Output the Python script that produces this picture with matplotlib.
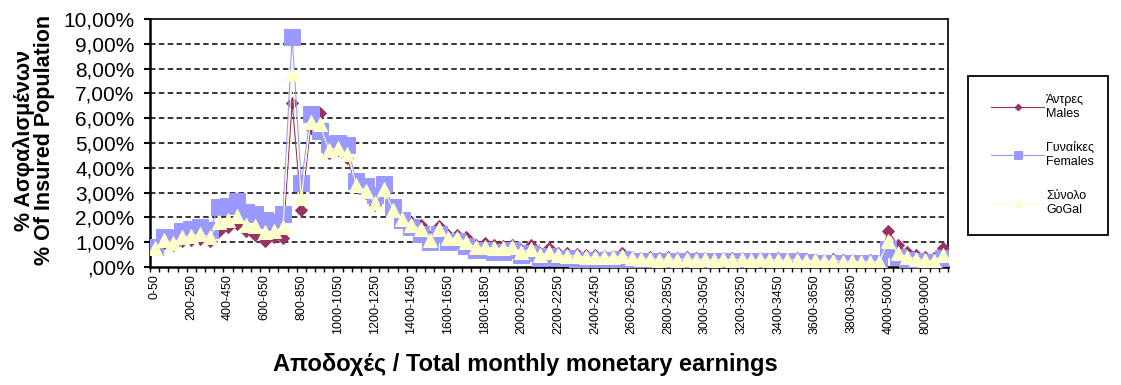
import numpy as np
import matplotlib
matplotlib.use("Agg")
import matplotlib.pyplot as plt
from matplotlib.patches import Rectangle
from matplotlib.ticker import FixedLocator

plt.rcParams['font.family'] = ['Liberation Sans', 'DejaVu Sans']

# ==============================
# DATA (% of insured population)
# ==============================
bins_50 = [f"{a}-{a + 50}" for a in range(0, 4000, 50)]
bins_wide = ["4000-5000", "5000-6000", "6000-7000", "7000-8000",
             "8000-9000", "9000-10000", "10000+"]
categories = bins_50 + bins_wide

males = [
    0.75, 0.95, 0.90, 1.05, 1.10, 1.12, 1.05, 1.45, 1.62, 1.75,
    1.45, 1.30, 1.05, 1.20, 1.15, 6.62, 2.30, 5.60, 6.22, 4.60,
    4.70, 4.40, 3.25, 3.00, 2.50, 3.10, 2.30, 1.95, 1.80, 1.70,
    1.20, 1.65, 1.30, 1.30, 1.20, 0.90, 0.95, 0.90, 0.85, 0.90,
    0.68, 0.90, 0.55, 0.75, 0.55, 0.55, 0.52, 0.48, 0.48, 0.46,
    0.46, 0.58, 0.42, 0.38, 0.40, 0.36, 0.40, 0.36, 0.40, 0.35,
    0.38, 0.34, 0.38, 0.35, 0.37, 0.34, 0.36, 0.33, 0.35, 0.33,
    0.36, 0.32, 0.34, 0.30, 0.32, 0.28, 0.30, 0.26, 0.28, 0.26,
    1.47, 0.87, 0.62, 0.48, 0.42, 0.38, 0.75,
]

females = [
    0.80, 1.20, 1.15, 1.47, 1.54, 1.60, 1.50, 2.40, 2.45, 2.67,
    2.20, 2.15, 1.90, 1.80, 2.15, 9.28, 3.38, 6.15, 5.50, 4.95,
    5.00, 4.90, 3.45, 3.25, 2.90, 3.35, 2.40, 1.90, 1.60, 1.35,
    1.00, 1.35, 1.00, 1.05, 0.85, 0.70, 0.70, 0.62, 0.62, 0.70,
    0.50, 0.55, 0.38, 0.45, 0.38, 0.36, 0.30, 0.30, 0.28, 0.28,
    0.28, 0.32, 0.25, 0.22, 0.25, 0.22, 0.26, 0.24, 0.26, 0.22,
    0.25, 0.22, 0.26, 0.23, 0.25, 0.22, 0.26, 0.22, 0.26, 0.22,
    0.25, 0.21, 0.18, 0.16, 0.18, 0.15, 0.16, 0.14, 0.16, 0.18,
    0.74, 0.40, 0.30, 0.25, 0.20, 0.20, 0.35,
]

total = [
    0.75, 1.07, 0.97, 1.20, 1.27, 1.33, 1.22, 1.80, 1.88, 2.05,
    1.68, 1.65, 1.40, 1.45, 1.60, 7.80, 2.78, 5.85, 5.75, 4.73,
    4.80, 4.55, 3.32, 3.08, 2.60, 3.15, 2.30, 1.92, 1.70, 1.55,
    1.08, 1.52, 1.15, 1.18, 1.02, 0.80, 0.80, 0.76, 0.75, 0.80,
    0.60, 0.72, 0.47, 0.60, 0.47, 0.46, 0.44, 0.40, 0.40, 0.39,
    0.40, 0.46, 0.35, 0.31, 0.33, 0.30, 0.33, 0.30, 0.33, 0.29,
    0.32, 0.28, 0.32, 0.29, 0.31, 0.28, 0.31, 0.28, 0.30, 0.27,
    0.30, 0.26, 0.27, 0.24, 0.26, 0.22, 0.24, 0.21, 0.22, 0.20,
    1.05, 0.58, 0.42, 0.34, 0.28, 0.26, 0.48,
]

series_labels = ["Άντρες\nMales", "Γυναίκες\nFemales", "Σύνολο\nGoGal"]

# ==============================
# FIGURE
# ==============================
W, H = 1121, 385
fig = plt.figure(figsize=(W / 100, H / 100), dpi=100)
ax = fig.add_axes([150 / W, 1 - 267 / H, (948 - 150) / W, (267 - 19) / H])

x = np.arange(len(categories))

l1, = ax.plot(x, males, color="#993366", lw=0.8, marker="D", ms=6.2,
              mfc="#993366", mec="#993366", mew=0.7, zorder=3)
l2, = ax.plot(x, females, color="#9999FF", lw=0.8, marker="s", ms=11.5,
              mfc="#9999FF", mec="#9999FF", mew=0.7, zorder=4)
l3, = ax.plot(x, total, color="#FFFFCC", lw=0.8, marker="^", ms=9.5,
              mfc="#FFFFCC", mec="#FFFFCC", mew=0.7, zorder=5)

# ==============================
# AXES
# ==============================
ax.set_xlim(-0.5, len(categories) - 0.5)
ax.set_ylim(0, 10)

yticks = np.arange(0, 11)
ax.set_yticks(yticks)
ax.set_yticklabels([",00%" if v == 0 else f"{v},00%" for v in yticks],
                   fontsize=15)
for v in yticks[1:-1]:
    ax.axhline(v, color="black", lw=1.1, ls=(0, (3.6, 2.2)), zorder=1)

ax.set_xticks(x[::4])
ax.set_xticklabels(categories[::4], rotation=90, fontsize=9)
ax.xaxis.set_minor_locator(FixedLocator(np.arange(-0.5, len(categories), 1)))
ax.tick_params(axis="x", which="major", length=0, pad=5)
ax.tick_params(axis="x", which="minor", length=3.5, width=1.0, direction="out")
ax.tick_params(axis="y", which="major", length=4, width=1.5, pad=7)

for side in ["left", "bottom"]:
    ax.spines[side].set_linewidth(1.8)
for side in ["top", "right"]:
    ax.spines[side].set_linewidth(1.2)

fig.text(34 / W, 1 - 140 / H, "% Ασφαλισμένων\n% Of Insured Population",
         rotation=90, ha="center", va="center", fontsize=15.5,
         fontweight="bold", linespacing=0.95)
fig.text(525 / W, 1 - 364 / H, "Αποδοχές / Total monthly monetary earnings",
         ha="center", va="center", fontsize=17, fontweight="bold")

# ==============================
# LEGEND
# ==============================
fig.patches.append(Rectangle((968 / W, 1 - 235 / H), 140 / W, 159 / H,
                             transform=fig.transFigure, fill=False,
                             edgecolor="black", lw=1.3))
fig.legend([l1, l2, l3], series_labels, loc="upper left",
           bbox_to_anchor=(985 / W, 1 - 88 / H), frameon=False,
           fontsize=9, handlelength=4.2, handletextpad=0.2,
           labelspacing=1.75, borderpad=0, markerscale=0.55)

fig.savefig("out.png", dpi=100)
